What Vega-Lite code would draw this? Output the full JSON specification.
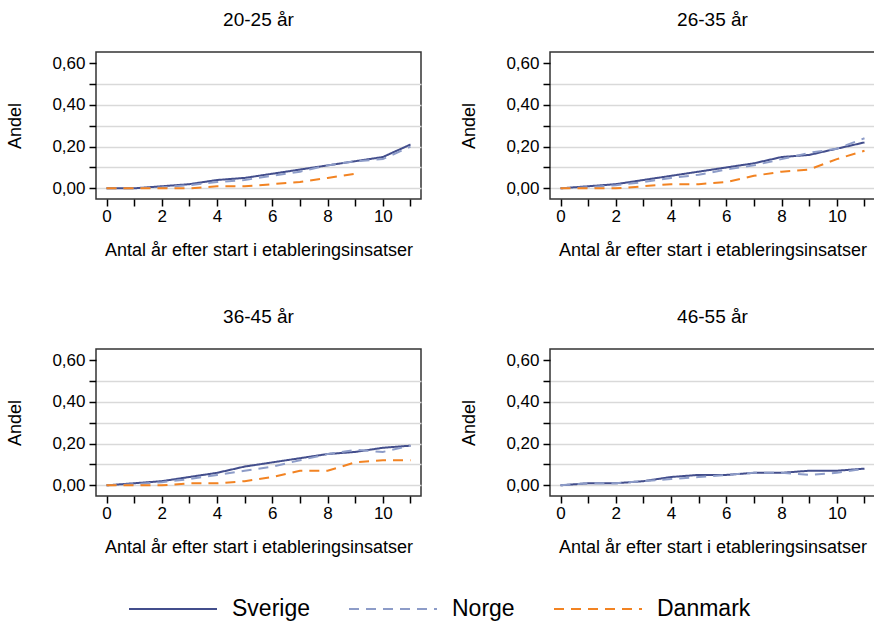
{
  "$schema": "https://vega.github.io/schema/vega-lite/v6.json",
  "padding": {"left": 6, "top": 10, "right": 0, "bottom": 0},
  "data": {"values": [
    {"g": "20-25 år", "x": 0, "Sverige": 0, "Norge": 0, "Danmark": 0},
    {"g": "20-25 år", "x": 1, "Sverige": 0, "Norge": 0, "Danmark": 0},
    {"g": "20-25 år", "x": 2, "Sverige": 0.01, "Norge": 0.005, "Danmark": 0},
    {"g": "20-25 år", "x": 3, "Sverige": 0.02, "Norge": 0.015, "Danmark": 0},
    {"g": "20-25 år", "x": 4, "Sverige": 0.04, "Norge": 0.03, "Danmark": 0.01},
    {"g": "20-25 år", "x": 5, "Sverige": 0.05, "Norge": 0.04, "Danmark": 0.01},
    {"g": "20-25 år", "x": 6, "Sverige": 0.07, "Norge": 0.06, "Danmark": 0.02},
    {"g": "20-25 år", "x": 7, "Sverige": 0.09, "Norge": 0.08, "Danmark": 0.03},
    {"g": "20-25 år", "x": 8, "Sverige": 0.11, "Norge": 0.11, "Danmark": 0.05},
    {"g": "20-25 år", "x": 9, "Sverige": 0.13, "Norge": 0.13, "Danmark": 0.07},
    {"g": "20-25 år", "x": 10, "Sverige": 0.15, "Norge": 0.14, "Danmark": null},
    {"g": "20-25 år", "x": 11, "Sverige": 0.21, "Norge": 0.20, "Danmark": null},
    {"g": "26-35 år", "x": 0, "Sverige": 0, "Norge": 0, "Danmark": 0},
    {"g": "26-35 år", "x": 1, "Sverige": 0.01, "Norge": 0.005, "Danmark": 0},
    {"g": "26-35 år", "x": 2, "Sverige": 0.02, "Norge": 0.015, "Danmark": 0},
    {"g": "26-35 år", "x": 3, "Sverige": 0.04, "Norge": 0.03, "Danmark": 0.01},
    {"g": "26-35 år", "x": 4, "Sverige": 0.06, "Norge": 0.05, "Danmark": 0.02},
    {"g": "26-35 år", "x": 5, "Sverige": 0.08, "Norge": 0.065, "Danmark": 0.02},
    {"g": "26-35 år", "x": 6, "Sverige": 0.10, "Norge": 0.09, "Danmark": 0.03},
    {"g": "26-35 år", "x": 7, "Sverige": 0.12, "Norge": 0.11, "Danmark": 0.06},
    {"g": "26-35 år", "x": 8, "Sverige": 0.15, "Norge": 0.14, "Danmark": 0.08},
    {"g": "26-35 år", "x": 9, "Sverige": 0.16, "Norge": 0.17, "Danmark": 0.09},
    {"g": "26-35 år", "x": 10, "Sverige": 0.19, "Norge": 0.19, "Danmark": 0.14},
    {"g": "26-35 år", "x": 11, "Sverige": 0.22, "Norge": 0.24, "Danmark": 0.18},
    {"g": "36-45 år", "x": 0, "Sverige": 0, "Norge": 0, "Danmark": 0},
    {"g": "36-45 år", "x": 1, "Sverige": 0.01, "Norge": 0.005, "Danmark": 0},
    {"g": "36-45 år", "x": 2, "Sverige": 0.02, "Norge": 0.015, "Danmark": 0},
    {"g": "36-45 år", "x": 3, "Sverige": 0.04, "Norge": 0.03, "Danmark": 0.01},
    {"g": "36-45 år", "x": 4, "Sverige": 0.06, "Norge": 0.05, "Danmark": 0.01},
    {"g": "36-45 år", "x": 5, "Sverige": 0.09, "Norge": 0.07, "Danmark": 0.02},
    {"g": "36-45 år", "x": 6, "Sverige": 0.11, "Norge": 0.09, "Danmark": 0.04},
    {"g": "36-45 år", "x": 7, "Sverige": 0.13, "Norge": 0.12, "Danmark": 0.07},
    {"g": "36-45 år", "x": 8, "Sverige": 0.15, "Norge": 0.15, "Danmark": 0.07},
    {"g": "36-45 år", "x": 9, "Sverige": 0.16, "Norge": 0.17, "Danmark": 0.11},
    {"g": "36-45 år", "x": 10, "Sverige": 0.18, "Norge": 0.16, "Danmark": 0.12},
    {"g": "36-45 år", "x": 11, "Sverige": 0.19, "Norge": 0.19, "Danmark": 0.12},
    {"g": "46-55 år", "x": 0, "Sverige": 0, "Norge": 0, "Danmark": null},
    {"g": "46-55 år", "x": 1, "Sverige": 0.01, "Norge": 0.01, "Danmark": null},
    {"g": "46-55 år", "x": 2, "Sverige": 0.01, "Norge": 0.01, "Danmark": null},
    {"g": "46-55 år", "x": 3, "Sverige": 0.02, "Norge": 0.02, "Danmark": null},
    {"g": "46-55 år", "x": 4, "Sverige": 0.04, "Norge": 0.03, "Danmark": null},
    {"g": "46-55 år", "x": 5, "Sverige": 0.05, "Norge": 0.04, "Danmark": null},
    {"g": "46-55 år", "x": 6, "Sverige": 0.05, "Norge": 0.05, "Danmark": null},
    {"g": "46-55 år", "x": 7, "Sverige": 0.06, "Norge": 0.06, "Danmark": null},
    {"g": "46-55 år", "x": 8, "Sverige": 0.06, "Norge": 0.06, "Danmark": null},
    {"g": "46-55 år", "x": 9, "Sverige": 0.07, "Norge": 0.05, "Danmark": null},
    {"g": "46-55 år", "x": 10, "Sverige": 0.07, "Norge": 0.06, "Danmark": null},
    {"g": "46-55 år", "x": 11, "Sverige": 0.08, "Norge": 0.08, "Danmark": null}
  ]},
  "transform": [{"fold": ["Sverige", "Norge", "Danmark"], "as": ["land", "andel"]}],
  "facet": {
    "field": "g", "type": "nominal", "title": null,
    "header": {"labelFontSize": 19, "labelFont": "Liberation Sans", "labelColor": "#000000", "labelPadding": 22}
  },
  "columns": 2,
  "spacing": {"column": 38, "row": 47},
  "resolve": {"axis": {"x": "independent", "y": "independent"}},
  "spec": {
    "width": 325,
    "height": 147,
    "mark": {"type": "line", "strokeWidth": 2},
    "encoding": {
      "x": {
        "field": "x", "type": "quantitative",
        "title": "Antal år efter start i etableringsinsatser",
        "scale": {"domain": [-0.38, 11.38], "nice": false, "zero": false},
        "axis": {
          "values": [0, 1, 2, 3, 4, 5, 6, 7, 8, 9, 10, 11],
          "labelExpr": "datum.value % 2 == 0 ? datum.label : ''",
          "grid": false, "labelPadding": 2, "titlePadding": 17
        }
      },
      "y": {
        "field": "andel", "type": "quantitative",
        "title": "Andel",
        "scale": {"domain": [-0.051, 0.653], "nice": false},
        "axis": {
          "values": [0, 0.1, 0.2, 0.3, 0.4, 0.5, 0.6],
          "labelExpr": "round(datum.value * 10) % 2 == 0 ? replace(format(datum.value, '.2f'), '.', ',') : ''",
          "grid": true, "gridColor": "#d9d9d9", "gridWidth": 1.5,
          "gridOpacity": {"condition": {"test": "datum.value > 0.55", "value": 0}, "value": 1},
          "labelPadding": 4, "titlePadding": 27
        }
      },
      "color": {
        "field": "land", "type": "nominal",
        "scale": {"domain": ["Sverige", "Norge", "Danmark"], "range": ["#434e8c", "#8d9cc8", "#f28322"]},
        "legend": {"title": null, "orient": "none", "legendX": 32, "legendY": 512, "direction": "horizontal", "symbolType": "stroke", "symbolSize": 7744, "symbolStrokeWidth": 2, "labelFontSize": 23, "labelOffset": 14, "columnPadding": 35, "labelColor": "#000000", "labelFont": "Liberation Sans"}
      },
      "strokeDash": {
        "field": "land", "type": "nominal",
        "scale": {"domain": ["Sverige", "Norge", "Danmark"], "range": [[1, 0], [10, 7], [10, 7]]},
        "legend": {"title": null, "orient": "none", "legendX": 32, "legendY": 512, "direction": "horizontal", "symbolType": "stroke", "symbolSize": 7744, "symbolStrokeWidth": 2, "labelFontSize": 23, "labelOffset": 14, "columnPadding": 35, "labelColor": "#000000", "labelFont": "Liberation Sans"}
      }
    }
  },
  "config": {
    "font": "Liberation Sans",
    "view": {"stroke": "#333333", "strokeWidth": 1.5},
    "axis": {
      "domain": false, "tickColor": "#000000", "tickWidth": 1.5, "tickSize": 7,
      "labelFontSize": 17, "labelColor": "#000000", "labelFont": "Liberation Sans",
      "titleFontSize": 18, "titleFontWeight": "normal", "titleColor": "#000000", "titleFont": "Liberation Sans"
    }
  }
}
